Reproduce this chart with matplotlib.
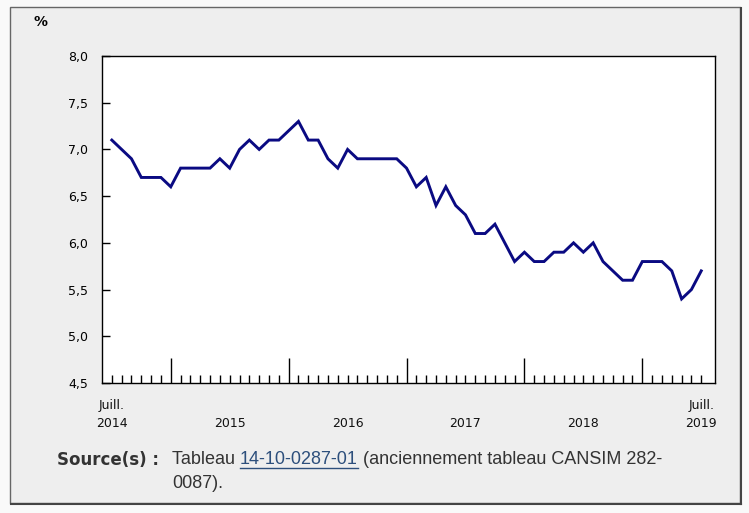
import matplotlib.pyplot as plt
import matplotlib.patches as mpatches
import matplotlib.transforms as mtransforms
import numpy as np

# taux mensuel (%), juillet 2014 à juillet 2019
taux = [7.1, 7.0, 6.9, 6.7, 6.7, 6.7,
        6.6, 6.8, 6.8, 6.8, 6.8, 6.9, 6.8, 7.0, 7.1, 7.0, 7.1, 7.1,
        7.2, 7.3, 7.1, 7.1, 6.9, 6.8, 7.0, 6.9, 6.9, 6.9, 6.9, 6.9,
        6.8, 6.6, 6.7, 6.4, 6.6, 6.4, 6.3, 6.1, 6.1, 6.2, 6.0, 5.8,
        5.9, 5.8, 5.8, 5.9, 5.9, 6.0, 5.9, 6.0, 5.8, 5.7, 5.6, 5.6,
        5.8, 5.8, 5.8, 5.7, 5.4, 5.5, 5.7]
mois = np.arange(len(taux))          # 0 = juillet 2014
janviers = [6, 18, 30, 42, 54]
etiquettes_x = [(0, "Juill.\n2014"), (12, "2015"), (24, "2016"),
                (36, "2017"), (48, "2018"), (60, "Juill.\n2019")]
yticks = [4.5, 5.0, 5.5, 6.0, 6.5, 7.0, 7.5, 8.0]

W, H = 749, 513
fig = plt.figure(figsize=(W / 100, H / 100), dpi=100, facecolor="#f9f9f9")

def fx(px):
    return px / W

def fy(py):
    return 1 - py / H

# panneau gris avec bordure
fig.patches.append(mpatches.Rectangle((fx(10), fy(503)), fx(730), fy(7) - fy(503),
                                      transform=fig.transFigure, facecolor="#eeeeee",
                                      edgecolor="#666666", linewidth=1.0, zorder=-10))
fig.lines.append(plt.Line2D([fx(741), fx(741)], [fy(8), fy(504)], transform=fig.transFigure,
                            color="#444444", linewidth=1.5, zorder=-9))
fig.lines.append(plt.Line2D([fx(11), fx(741)], [fy(504), fy(504)], transform=fig.transFigure,
                            color="#444444", linewidth=1.5, zorder=-9))

ax = fig.add_axes([fx(102), fy(383), fx(715) - fx(102), fy(56) - fy(383)])
ax.set_facecolor("white")
ax.plot(mois, taux, color="#0a0a82", linewidth=2.1, solid_joinstyle="miter")

ax.set_xlim(-1, 61.4)
ax.set_ylim(4.5, 8.0)
ax.set_yticks(yticks)
ax.set_yticklabels([f"{v:.1f}".replace(".", ",") for v in yticks], fontsize=9)
ax.tick_params(axis="y", direction="in", length=6, width=1, pad=10, colors="black")

ax.set_xticks(janviers)
ax.set_xticklabels([])
ax.set_xticks(mois, minor=True)
ax.tick_params(axis="x", which="major", direction="in", length=18, width=1)
ax.tick_params(axis="x", which="minor", direction="in", length=6, width=1)

for s in ax.spines.values():
    s.set_color("black")
    s.set_linewidth(1.0)

trans = mtransforms.blended_transform_factory(ax.transData, fig.transFigure)
for m, lab in etiquettes_x:
    ax.text(m, fy(430), lab, transform=trans, ha="center", va="bottom",
            fontsize=9, linespacing=1.55, color="#111111")

fig.text(fx(34), fy(22), "%", fontsize=10, fontweight="bold", ha="left", va="center")

# source
fig.canvas.draw()
r = fig.canvas.get_renderer()
y0 = fy(460)
fig.text(fx(57), y0, "Source(s) :", fontsize=12, fontweight="bold",
         ha="left", va="center", color="#333333")
fig.text(fx(172), y0, "Tableau ", fontsize=13, family="Liberation Sans",
         ha="left", va="center", color="#333333")
tmp = fig.text(fx(172), y0, "Tableau ", fontsize=13, family="Liberation Sans",
               ha="left", va="center")
bb = tmp.get_window_extent(r)
tmp.remove()
lien = fig.text(bb.x1 / W, y0, "14-10-0287-01", fontsize=13, family="Liberation Sans",
                ha="left", va="center", color="#2d4f7c")
bl = lien.get_window_extent(r)
fig.lines.append(plt.Line2D([bl.x0 / W, bl.x1 / W], [bl.y0 / H + 0.001, bl.y0 / H + 0.001],
                            transform=fig.transFigure, color="#2d4f7c", linewidth=1))
fig.text(bl.x1 / W, y0, " (anciennement tableau CANSIM 282-", fontsize=13,
         family="Liberation Sans", ha="left", va="center", color="#333333")
fig.text(fx(172), fy(483), "0087).", fontsize=13, family="Liberation Sans",
         ha="left", va="center", color="#333333")

fig.savefig("out.png", dpi=100, facecolor=fig.get_facecolor())
